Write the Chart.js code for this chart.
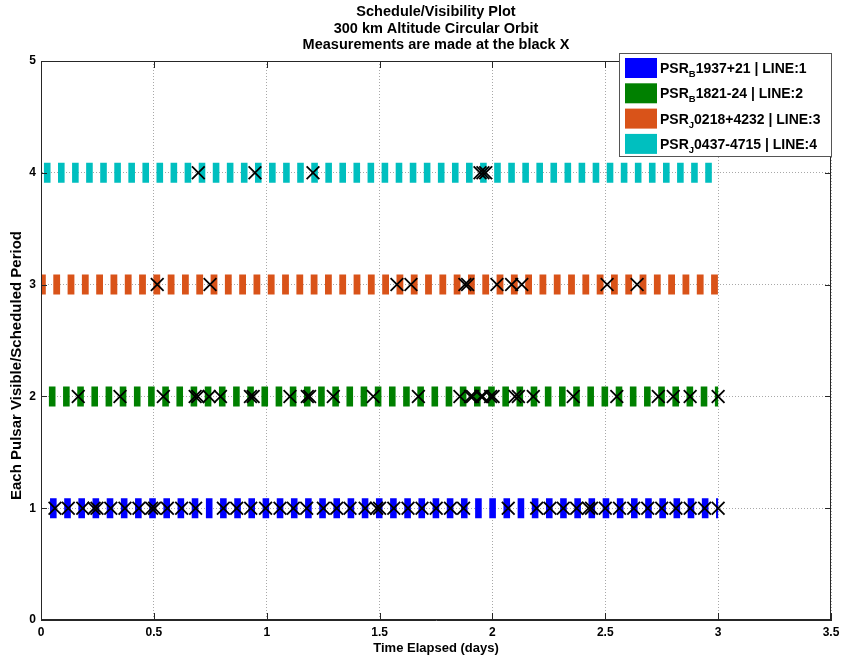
<!DOCTYPE html>
<html>
<head>
<meta charset="utf-8">
<script src="https://cdn.jsdelivr.net/npm/chart.js@4"></script>
<style>
  html, body { margin: 0; padding: 0; background: #fff; }
  #wrap { width: 845px; height: 660px; }
</style>
</head>
<body>
<div id="wrap"><canvas id="chart" width="845" height="660"></canvas></div>
<script>
// Pulsars and their line numbers
const pulsarCatalog = ['B', 'B', 'J', 'J'];
const pulsarNames = ['1937+21', '1821-24', '0218+4232', '0437-4715'];
const lineNumbers = [1, 2, 3, 4];

// Visibility period for each line (days)
const visibleFrom = [0.04, 0.035, 0.0, 0.013];
const visibleTo = [3.0, 3.0, 3.0, 2.975];

// Measurement times (the black X), days
const measured1 = [0.062, 0.121, 0.185, 0.235, 0.248, 0.309, 0.372, 0.434, 0.49, 0.503, 0.56, 0.623, 0.685,
    0.808, 0.867, 0.929, 0.995, 1.059, 1.118, 1.177, 1.251, 1.31, 1.369, 1.436, 1.487, 1.5,
    1.563, 1.626, 1.688, 1.751, 1.814, 1.872, 2.07, 2.196, 2.255, 2.314, 2.373, 2.426, 2.439,
    2.5, 2.563, 2.626, 2.688, 2.75, 2.813, 2.876, 2.94, 3.0];
const measured2 = [0.165, 0.35, 0.542, 0.683, 0.695, 0.745, 0.795, 0.928, 0.94, 1.103, 1.18, 1.19,
    1.295, 1.472, 1.672, 1.856, 1.903, 1.912, 1.95, 1.957, 1.992, 2.003, 2.1, 2.115, 2.181,
    2.358, 2.551, 2.735, 2.801, 2.876, 3.0];
const measured3 = [0.515, 0.749, 1.577, 1.639, 1.878, 1.89, 2.02, 2.085, 2.13, 2.508, 2.641];
const measured4 = [0.697, 0.948, 1.205, 1.945, 1.958, 1.97];
const measurements = [measured1, measured2, measured3, measured4];

const xTicks = [0, 0.5, 1, 1.5, 2, 2.5, 3, 3.5];
const yTicks = [0, 1, 2, 3, 4, 5];

const titleLines = ['Schedule/Visibility Plot', '300 km Altitude Circular Orbit', 'Measurements are made at the black X'];
const xLabel = 'Time Elapsed (days)';
const yLabel = 'Each Pulsar Visible/Scheduled Period';

const lineColors = ['#0000ff', '#008000', '#d95319', '#00bfbf'];
const lineDashes = [[6.6, 7.57], [6.6, 7.57], [6.8, 7.5], [6.6, 7.47]];
const dashOffsets = [0, 0, 2, 0];
const FONT = "'Liberation Sans', Arial, Helvetica, sans-serif";

const datasets = [];

// black X markers on top
measurements.forEach((times, i) => {
    datasets.push({
        label: 'meas' + lineNumbers[i],
        data: times.map(t => ({ x: t, y: lineNumbers[i] })),
        pointStyle: 'crossRot',
        pointRadius: 9,
        pointBorderWidth: 1.8,
        pointBorderColor: '#000',
        pointBackgroundColor: '#000',
        showLine: false,
        order: 0
    });
});

// thick dashed visibility lines
lineNumbers.forEach((lvl, i) => {
    datasets.push({
        label: 'PSR' + pulsarCatalog[i] + pulsarNames[i],
        data: [{ x: visibleFrom[i], y: lvl }, { x: visibleTo[i], y: lvl }],
        showLine: true,
        borderColor: lineColors[i],
        borderWidth: 20,
        borderDash: lineDashes[i],
        borderDashOffset: dashOffsets[i],
        borderCapStyle: 'butt',
        pointRadius: 0,
        order: 1
    });
});

function drawLegend(ctx, area) {
    const left = area.right - 212;
    const top = area.top - 8;
    ctx.fillStyle = '#fff';
    ctx.fillRect(left, top, 212, 103);
    ctx.strokeStyle = '#555';
    ctx.lineWidth = 1;
    ctx.strokeRect(left + 0.5, top + 0.5, 212, 103);

    pulsarNames.forEach((name, i) => {
        const y0 = top + 5 + i * 25.3;
        ctx.fillStyle = lineColors[i];
        ctx.fillRect(left + 6, y0, 32, 20);

        const base = y0 + 15;
        let x = left + 41;
        ctx.fillStyle = '#000';
        ctx.textBaseline = 'alphabetic';
        ctx.textAlign = 'left';
        ctx.font = 'bold 14px ' + FONT;
        ctx.fillText('PSR', x, base);
        x += ctx.measureText('PSR').width;
        ctx.font = 'bold 9.5px ' + FONT;
        ctx.fillText(pulsarCatalog[i], x, base + 4);
        x += ctx.measureText(pulsarCatalog[i]).width;
        ctx.font = 'bold 14px ' + FONT;
        ctx.fillText(name + ' | LINE:' + lineNumbers[i], x, base);
    });
}

function drawLabels(ctx, area) {
    const cx = (area.left + area.right) / 2;
    ctx.fillStyle = '#000';
    ctx.textAlign = 'center';
    ctx.textBaseline = 'middle';
    ctx.font = 'bold 14.5px ' + FONT;
    titleLines.forEach((line, i) => ctx.fillText(line, cx, 12 + i * 16.6));

    ctx.font = 'bold 13px ' + FONT;
    ctx.fillText(xLabel, cx, area.bottom + 28);

    ctx.save();
    ctx.translate(17, area.top + area.height / 2 + 25);
    ctx.rotate(-Math.PI / 2);
    ctx.font = 'bold 15px ' + FONT;
    ctx.fillText(yLabel, 0, 0);
    ctx.restore();
}

const framePlugin = {
    id: 'frame',
    afterDraw(chart) {
        const { ctx, chartArea: a, scales } = chart;
        ctx.save();
        ctx.strokeStyle = '#262626';
        ctx.lineWidth = 1;
        ctx.strokeRect(Math.round(a.left) + 0.5, Math.round(a.top) + 0.5,
            Math.round(a.width) - 1, Math.round(a.height) - 1);
        ctx.beginPath();
        xTicks.forEach(v => {
            const px = Math.round(scales.x.getPixelForValue(v)) + 0.5;
            ctx.moveTo(px, a.bottom);
            ctx.lineTo(px, a.bottom - 7);
            ctx.moveTo(px, a.top);
            ctx.lineTo(px, a.top + 7);
        });
        yTicks.forEach(v => {
            const py = Math.round(scales.y.getPixelForValue(v)) + 0.5;
            ctx.moveTo(a.left, py);
            ctx.lineTo(a.left + 6, py);
            ctx.moveTo(a.right, py);
            ctx.lineTo(a.right - 6, py);
        });
        ctx.stroke();
        drawLabels(ctx, a);
        drawLegend(ctx, a);
        ctx.restore();
    }
};

new Chart(document.getElementById('chart').getContext('2d'), {
    type: 'scatter',
    data: { datasets: datasets },
    options: {
        responsive: false,
        animation: false,
        events: [],
        layout: { padding: { left: 0, right: 14, top: 61, bottom: 0 } },
        plugins: {
            legend: { display: false },
            tooltip: { enabled: false },
            title: { display: false }
        },
        scales: {
            x: {
                type: 'linear',
                min: 0,
                max: 3.5,
                afterFit: (scale) => { scale.height = 40; },
                afterBuildTicks: (scale) => { scale.ticks = xTicks.map(v => ({ value: v })); },
                grid: { color: '#a8a8a8', lineWidth: 1, drawTicks: false },
                border: { display: true, color: '#262626', dash: [1, 2] },
                ticks: {
                    color: '#000',
                    padding: 5,
                    maxRotation: 0,
                    callback: (v) => String(v),
                    font: { family: FONT, size: 12, weight: 'bold' }
                }
            },
            y: {
                type: 'linear',
                min: 0,
                max: 5,
                afterFit: (scale) => { scale.width = 41; },
                afterBuildTicks: (scale) => { scale.ticks = yTicks.map(v => ({ value: v })); },
                grid: { color: '#a8a8a8', lineWidth: 1, drawTicks: false },
                border: { display: true, color: '#262626', dash: [1, 2] },
                ticks: {
                    color: '#000',
                    padding: 5,
                    callback: (v) => String(v),
                    font: { family: FONT, size: 12, weight: 'bold' }
                }
            }
        }
    },
    plugins: [framePlugin]
});
</script>
</body>
</html>
